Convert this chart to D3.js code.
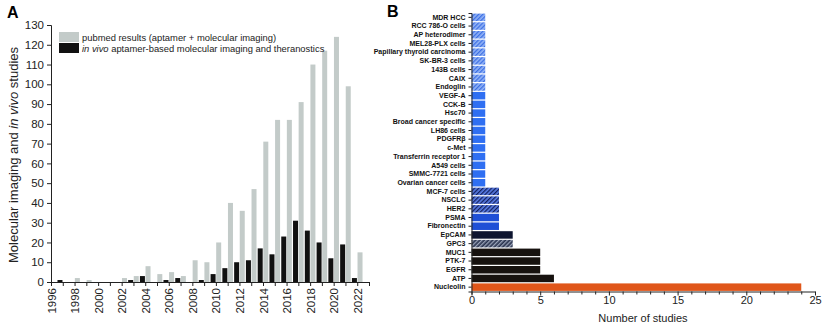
<!DOCTYPE html>
<html>
<head>
<meta charset="utf-8">
<style>
  body { margin: 0; background: #fff; }
  svg { font-family: "Liberation Sans", Arial, sans-serif; }
</style>
<script src="https://d3js.org/d3.v7.min.js"></script>
</head>
<body>
<svg width="824" height="329"></svg>
<script>
// panel A data
var years = [1996,1997,1998,1999,2000,2001,2002,2003,2004,2005,2006,2007,2008,2009,2010,2011,2012,2013,2014,2015,2016,2017,2018,2019,2020,2021,2022];
var pubmed = [0,0,2,1,0,0,2,3,8,4,5,3,11,10,20,40,36,47,71,82,82,91,110,117,124,99,15];
var invivo = [0,1,0,0,0,0,0,1,3,0,1,2,0,1,4,7,10,11,17,14,23,31,26,20,12,19,2];
var yTicksA = [0,10,20,30,40,50,60,70,80,90,100,110,120,130];

// panel B data
var targets = ["MDR HCC","RCC 786-O cells","AP heterodimer","MEL28-PLX cells","Papillary thyroid carcinoma","SK-BR-3 cells","143B cells","CAIX","Endoglin","VEGF-A","CCK-B","Hsc70","Broad cancer specific","LH86 cells","PDGFRβ","c-Met","Transferrin receptor 1","A549 cells","SMMC-7721 cells","Ovarian cancer cells","MCF-7 cells","NSCLC","HER2","PSMA","Fibronectin","EpCAM","GPC3","MUC1","PTK-7","EGFR","ATP","Nucleolin"];
var studies = [1,1,1,1,1,1,1,1,1,1,1,1,1,1,1,1,1,1,1,1,2,2,2,2,2,3,3,5,5,5,6,24];
var groups = ["hatchLight","hatchLight","hatchLight","hatchLight","hatchLight","hatchLight","hatchLight","hatchLight","hatchLight","blue","blue","blue","blue","blue","blue","blue","blue","blue","blue","blue","hatchMid","hatchMid","hatchMid","blueDark","blueDark","navy","hatchDark","black","black","black","black","orange"];
var xTicksB = [0,5,10,15,20,25];

var svg = d3.select("svg");
var defs = svg.append("defs");

function hatch(id, base, stripe) {
  var p = defs.append("pattern").attr("id", id)
    .attr("patternUnits", "userSpaceOnUse")
    .attr("width", 3).attr("height", 3)
    .attr("patternTransform", "rotate(45)");
  p.append("rect").attr("width", 3).attr("height", 3).attr("fill", base);
  p.append("rect").attr("width", 1.3).attr("height", 3).attr("fill", stripe);
}
hatch("hatchLight", "#93b4f6", "#3d6fe4");
hatch("hatchMid", "#5b7ee8", "#12205e");
hatch("hatchDark", "#2b3550", "#9aa3b8");

var fills = {
  hatchLight: "url(#hatchLight)", blue: "#2f6ff2", hatchMid: "url(#hatchMid)",
  blueDark: "#1f4fd6", navy: "#0e1530", hatchDark: "url(#hatchDark)",
  black: "#17120f", orange: "#e0561a"
};

// ---------- panel A ----------
var xA = d3.scaleLinear().domain([1996, 2023]).range([51, 369]);
var yA = d3.scaleLinear().domain([0, 130]).range([282, 25]);
var bw = 5;

var gA = svg.append("g");

gA.selectAll(".grey").data(years).enter().append("rect")
  .attr("x", function(d) { return xA(d) + 0.3; })
  .attr("y", function(d, i) { return yA(pubmed[i]); })
  .attr("width", bw)
  .attr("height", function(d, i) { return yA(0) - yA(pubmed[i]); })
  .attr("fill", "#c3cbc9");

gA.selectAll(".black").data(years).enter().append("rect")
  .attr("x", function(d) { return xA(d) - bw - 0.3; })
  .attr("y", function(d, i) { return yA(invivo[i]); })
  .attr("width", bw)
  .attr("height", function(d, i) { return yA(0) - yA(invivo[i]); })
  .attr("fill", "#111");

var axA = gA.append("g")
  .attr("transform", "translate(0," + yA(0) + ")")
  .call(d3.axisBottom(xA).tickValues(years.concat([2023])).tickSize(4)
    .tickFormat(function(d) { return (d % 2 === 0 && d < 2023) ? d : ""; }));
axA.selectAll("text")
  .attr("transform", "rotate(-90)")
  .attr("text-anchor", "end")
  .attr("x", -6).attr("y", 0).attr("dy", "0.35em")
  .style("font-size", "11.5px").attr("fill", "#222");

var ayA = gA.append("g")
  .attr("transform", "translate(" + xA(1996) + ",0)")
  .call(d3.axisLeft(yA).tickValues(yTicksA).tickSize(4).tickPadding(3));
ayA.selectAll("text").style("font-size", "11.5px").attr("fill", "#222");
gA.selectAll(".domain, .tick line").attr("stroke", "#222");

var yTitle = gA.append("text")
  .attr("transform", "translate(18,155) rotate(-90)")
  .attr("text-anchor", "middle")
  .style("font-size", "13px").attr("fill", "#222");
yTitle.append("tspan").text("Molecular imaging and ");
yTitle.append("tspan").style("font-style", "italic").text("in vivo");
yTitle.append("tspan").text(" studies");

// legend
gA.append("rect").attr("x", 59).attr("y", 32).attr("width", 20).attr("height", 10).attr("fill", "#c3cbc9");
gA.append("rect").attr("x", 59).attr("y", 43).attr("width", 20).attr("height", 10).attr("fill", "#111");
gA.append("text").attr("x", 82).attr("y", 40.5).style("font-size", "9.4px").attr("fill", "#222")
  .text("pubmed results (aptamer + molecular imaging)");
var lg2 = gA.append("text").attr("x", 82).attr("y", 51.5).style("font-size", "9.4px").attr("fill", "#222");
lg2.append("tspan").style("font-style", "italic").text("in vivo");
lg2.append("tspan").text(" aptamer-based molecular imaging and theranostics");

svg.append("text").attr("x", 7).attr("y", 18).style("font-size", "16px").style("font-weight", "bold").text("A");

// ---------- panel B ----------
var xB = d3.scaleLinear().domain([0, 25]).range([471.5, 815]);
var yB = d3.scaleBand().domain(targets).range([13, 291.5]).paddingInner(0.14).paddingOuter(0.07);

var gB = svg.append("g");
gB.selectAll("rect.bar").data(targets).enter().append("rect")
  .attr("x", xB(0))
  .attr("y", function(d) { return yB(d); })
  .attr("width", function(d, i) { return xB(studies[i]) - xB(0); })
  .attr("height", yB.bandwidth())
  .attr("fill", function(d, i) { return fills[groups[i]]; });

var axB = gB.append("g")
  .attr("transform", "translate(0,291.5)")
  .call(d3.axisBottom(xB).ticks(25).tickSize(3).tickPadding(2)
    .tickFormat(function(d) { return xTicksB.indexOf(d) >= 0 ? d : ""; }));
axB.selectAll(".tick").filter(function(d) { return xTicksB.indexOf(d) >= 0; })
  .select("line").attr("y2", 4);
axB.selectAll("text").style("font-size", "11px").attr("fill", "#222");

var ayB = gB.append("g")
  .attr("transform", "translate(" + xB(0) + ",0)")
  .call(d3.axisLeft(yB).tickSize(3).tickPadding(3).tickSizeOuter(3));
ayB.selectAll("text").style("font-size", "7px").style("font-weight", "bold").attr("fill", "#111");
gB.selectAll(".domain, .tick line").attr("stroke", "#222");

gB.append("text").attr("x", 643).attr("y", 322).attr("text-anchor", "middle")
  .style("font-size", "11px").attr("fill", "#222").text("Number of studies");

svg.append("text").attr("x", 387).attr("y", 17).style("font-size", "16px").style("font-weight", "bold").text("B");
</script>
</body>
</html>
